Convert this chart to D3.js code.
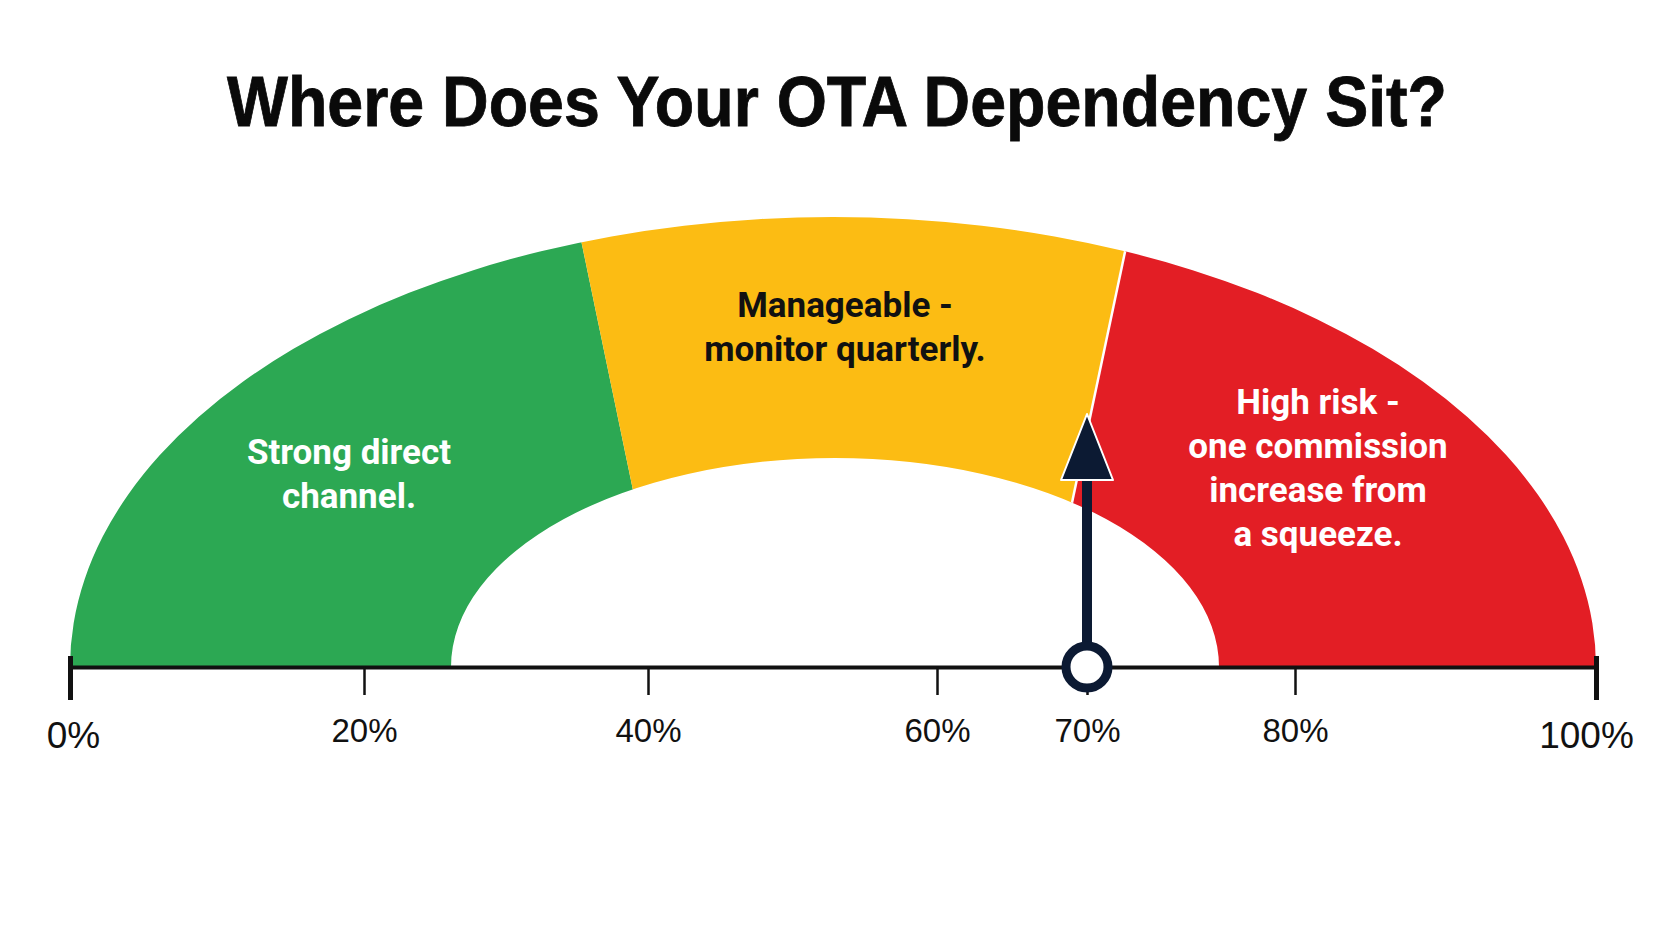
<!DOCTYPE html>
<html>
<head>
<meta charset="utf-8">
<script src="https://cdn.jsdelivr.net/npm/d3@7"></script>
<style>
  body { margin: 0; background: #fff; }
  svg { display: block; }
</style>
</head>
<body>
<svg id="chart"></svg>
<script>
const width = 1672;
const height = 941;

// chart data
const title = "Where Does Your OTA Dependency Sit?";
const tickValues = [0, 20, 40, 60, 70, 80, 100];
const zoneBreaks = [0, 40, 70, 100];          // green | yellow | red
const zoneLines = [
  ["Strong direct", "channel."],
  ["Manageable -", "monitor quarterly."],
  ["High risk -", "one commission", "increase from", "a squeeze."]
];
const zoneColors = ["#2ca853", "#fcbc13", "#e31e25"];
const zoneTextColors = ["#ffffff", "#111111", "#ffffff"];
const pointerValue = 70;

// layout
const axisY = 667;
const labelPos = [[349, 464], [845, 317], [1318, 414]]; // centre x, first baseline
const lineGap = 44;
const navy = "#0c1a33";

const svg = d3.select("#chart")
  .attr("width", width)
  .attr("height", height)
  .style("font-family", "Roboto, 'Liberation Sans', Arial, sans-serif");

svg.append("rect").attr("width", width).attr("height", height).attr("fill", "#fff");

// the axis in the picture is not evenly spaced, so map each tick to its spot
const x = d3.scaleLinear()
  .domain(tickValues)
  .range([70, 364, 648, 937, 1087, 1295, 1596]);

// title
svg.append("text")
  .attr("x", 837)
  .attr("y", 126)
  .attr("text-anchor", "middle")
  .attr("font-family", "'Liberation Sans', Arial, sans-serif")
  .attr("font-weight", 700)
  .attr("font-size", 70)
  .attr("textLength", 1220)
  .attr("lengthAdjust", "spacingAndGlyphs")
  .attr("fill", "#0a0a0a")
  .attr("stroke", "#0a0a0a")
  .attr("stroke-width", 0.8)
  .text(title);

// ring shape (upper half of two ellipses)
const outer = { cx: (x(0) + x(100)) / 2, rx: (x(100) - x(0)) / 2, ry: axisY - 217 };
const inner = { cx: 835, rx: 384, ry: axisY - 458 };
const ringPath = `M${outer.cx - outer.rx},${axisY}` +
  `A${outer.rx},${outer.ry} 0 0 1 ${outer.cx + outer.rx},${axisY}` +
  `L${inner.cx + inner.rx},${axisY}` +
  `A${inner.rx},${inner.ry} 0 0 0 ${inner.cx - inner.rx},${axisY}Z`;

svg.append("clipPath").attr("id", "ring")
  .append("path").attr("d", ringPath);

// zone boundaries are rays from a point far below the gauge
const focus = [852, 1544];
const boundaryAngle = d3.scaleLinear().domain([40, 70]).range([-11.74, 11.93]);
const angleOf = v => v <= 0 ? -89 : v >= 100 ? 89 : boundaryAngle(v);
const rayEnd = (deg, len) => {
  const a = deg * Math.PI / 180;
  return [focus[0] + len * Math.sin(a), focus[1] - len * Math.cos(a)];
};

const zones = d3.range(zoneColors.length).map(i => ({
  from: zoneBreaks[i], to: zoneBreaks[i + 1], color: zoneColors[i]
}));

const gZones = svg.append("g").attr("clip-path", "url(#ring)");

gZones.selectAll("path.zone")
  .data(zones)
  .join("path")
  .attr("class", "zone")
  .attr("fill", d => d.color)
  .attr("d", d => d3.line()([focus, rayEnd(angleOf(d.from), 4000), rayEnd(angleOf(d.to), 4000)]) + "Z");

// thin white seam on the yellow/red edge
gZones.append("path")
  .attr("d", d3.line()([focus, rayEnd(angleOf(zoneBreaks[2]), 4000)]))
  .attr("stroke", "#fff")
  .attr("stroke-width", 2.5);

// zone labels
svg.append("g").selectAll("text")
  .data(zoneLines)
  .join("text")
  .attr("text-anchor", "middle")
  .attr("font-weight", 700)
  .attr("font-size", 35)
  .attr("fill", (d, i) => zoneTextColors[i])
  .each(function(lines, i) {
    d3.select(this).selectAll("tspan")
      .data(lines)
      .join("tspan")
      .attr("x", labelPos[i][0])
      .attr("y", (l, j) => labelPos[i][1] + j * lineGap)
      .text(l => l);
  });

// axis
const axis = d3.axisBottom(x)
  .tickValues(tickValues)
  .tickFormat(d => d + "%")
  .tickSize(28)
  .tickSizeOuter(0);

const gAxis = svg.append("g")
  .attr("transform", `translate(0,${axisY})`)
  .call(axis)
  .attr("font-family", "'Liberation Sans', Arial, sans-serif");

gAxis.select(".domain").attr("stroke", "#111").attr("stroke-width", 4);
gAxis.selectAll(".tick line").attr("stroke", "#111").attr("stroke-width", 2.5);
gAxis.selectAll(".tick text")
  .attr("fill", "#111")
  .attr("font-size", 33)
  .attr("dy", null)
  .attr("y", 75);

const isEnd = d => d === 0 || d === 100;
gAxis.selectAll(".tick").filter(isEnd).select("line")
  .attr("y1", -11).attr("y2", 33).attr("stroke-width", 5);
gAxis.selectAll(".tick").filter(isEnd).select("text")
  .attr("font-size", 37)
  .attr("y", 81)
  .attr("dx", d => d === 0 ? 3 : -10);

// pointer
const px = x(pointerValue);
const gPtr = svg.append("g");
gPtr.append("rect")
  .attr("x", px - 5).attr("y", 470)
  .attr("width", 10).attr("height", axisY - 470)
  .attr("fill", navy);
gPtr.append("path")
  .attr("d", d3.line()([[px, 414], [px + 26, 480], [px - 26, 480]]) + "Z")
  .attr("fill", navy)
  .attr("stroke", "#fff")
  .attr("stroke-width", 2)
  .attr("stroke-linejoin", "round");
gPtr.append("circle")
  .attr("cx", px).attr("cy", axisY)
  .attr("r", 21)
  .attr("fill", "#fff")
  .attr("stroke", navy)
  .attr("stroke-width", 9);
</script>
</body>
</html>
